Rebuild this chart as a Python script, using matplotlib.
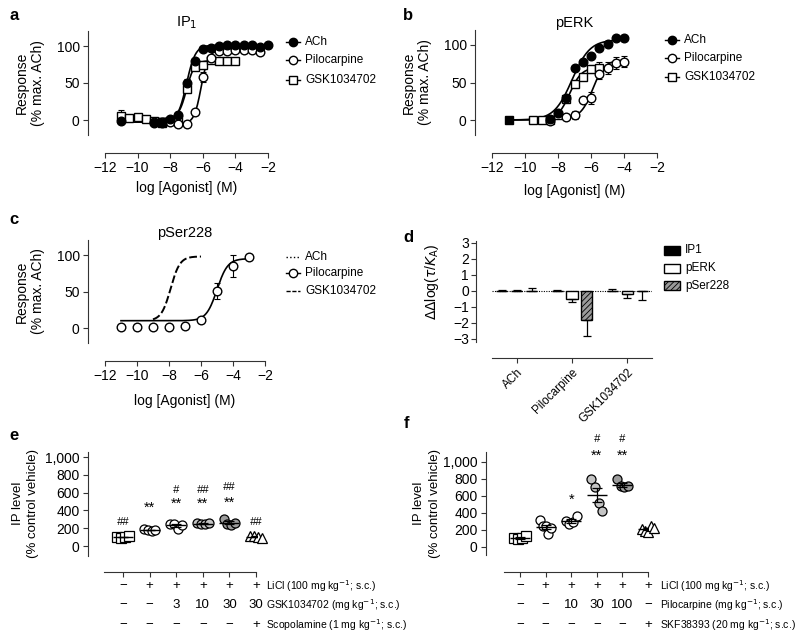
#!/usr/bin/env python3
"""Multi-panel figure: concentration-response curves (a-c), bias factors (d), in vivo IP levels (e, f)."""

import matplotlib
matplotlib.use("Agg")
import matplotlib.pyplot as plt
import matplotlib.ticker as ticker
import matplotlib.transforms as mtransforms
from matplotlib.lines import Line2D
from matplotlib.patches import Rectangle
import numpy as np

plt.rcParams["font.family"] = ["Liberation Sans", "DejaVu Sans"]
plt.rcParams["hatch.linewidth"] = 0.6

W, H = 800, 641

# ---------------- panel a: IP1 ----------------
A_ACH_X = [-11, -9, -8.5, -8, -7.5, -7, -6.5, -6, -5.5, -5, -4.5, -4, -3.5, -3, -2.5, -2]
A_ACH_Y = [-1, -4, -4, 1, 7, 50, 80, 96, 97, 100, 101, 102, 101, 101, 98, 101]
A_ACH_E = [0, 0, 0, 0, 0, 5, 4, 0, 0, 0, 0, 0, 0, 0, 0, 0]
A_PILO_X = [-9, -8.5, -8, -7.5, -7, -6.5, -6, -5.5, -5, -4.5, -4, -3.5, -3, -2.5]
A_PILO_Y = [-3, -3, -3, -5, -5, 11, 58, 84, 93, 93, 94, 95, 95, 92]
A_PILO_E = [0, 0, 0, 0, 0, 4, 7, 3, 0, 0, 0, 0, 0, 0]
A_GSK_X = [-11, -10.5, -10, -9.5, -9, -8.5, -8, -7.5, -7, -6.5, -6, -5.5, -5, -4.5, -4]
A_GSK_Y = [6, 3, 4, 2, -2, -4, -1, 2, 42, 71, 75, 81, 80, 80, 80]
A_GSK_E = [8, 0, 0, 0, 0, 0, 0, 0, 4, 3, 5, 0, 0, 0, 0]
# fit: bottom, top, logEC50, hill slope, x from, x to
A_ACH_FIT = [-3, 101, -7.0, 1.6, -11, -2]
A_PILO_FIT = [-5, 94, -6.1, 2.0, -9, -2.5]
A_GSK_FIT = [2, 80, -7.0, 1.8, -11, -4]

# ---------------- panel b: pERK ----------------
B_BASAL_X = [-11]
B_BASAL_Y = [0]
B_ACH_X = [-8.5, -8, -7.5, -7, -6.5, -6, -5.5, -5, -4.5, -4]
B_ACH_Y = [1, 10, 30, 69, 77, 85, 96, 102, 110, 110]
B_PILO_X = [-8.5, -7.5, -7, -6.5, -6, -5.5, -5, -4.5, -4]
B_PILO_Y = [-1, 4, 7, 27, 30, 61, 69, 76, 78]
B_PILO_E = [0, 0, 5, 3, 8, 6, 8, 8, 7]
B_GSK_X = [-9.5, -9, -8.5, -8, -7.5, -7, -6.5, -6, -5.5]
B_GSK_Y = [0, 0, 0, 7, 28, 48, 57, 68, 69]
B_GSK_E = [0, 0, 0, 0, 3, 4, 3, 5, 8]
B_ACH_FIT = [0, 107, -7.15, 0.8, -11, -4]
B_PILO_FIT = [2, 80, -5.9, 1.2, -8.5, -4]
B_GSK_FIT = [0, 70, -7.3, 1.2, -11, -5.5]

# ---------------- panel c: pSer228 ----------------
C_PILO_X = [-11, -10, -9, -8, -7, -6, -5, -4, -3]
C_PILO_Y = [2, 1, 2, 2, 3, 11, 51, 85, 97]
C_PILO_E = [0, 0, 0, 0, 0, 0, 11, 15, 0]
C_PILO_FIT = [10, 95, -5.0, 1.3, -11, -3]
C_GSK_FIT = [10, 98, -7.9, 1.5, -9, -6]

# ---------------- panel d: bias ----------------
D_AGONISTS = ["ACh", "Pilocarpine", "GSK1034702"]
D_PATHWAYS = ["IP1", "pERK", "pSer228"]
D_IP1 = [0.0, 0.0, 0.02]
D_PERK = [0.0, -0.5, -0.2]
D_PSER = [0.0, -1.82, -0.02]
D_IP1_ERR = [0.05, 0.07, 0.08]
D_PERK_ERR = [0.08, 0.17, 0.22]
D_PSER_ERR = [0.2, 0.98, 0.52]

# ---------------- panel e: GSK1034702 in vivo ----------------
E_VALUES = [
    [100, 90, 100, 110],
    [190, 175, 170, 180],
    [250, 250, 190, 240],
    [260, 250, 245, 255],
    [300, 250, 240, 260],
    [110, 110, 100, 90],
]
E_STARS = ["", "**", "**", "**", "**", ""]
E_STAR_Y = [0, 430, 480, 480, 490, 0]
E_HASH = ["##", "", "#", "##", "##", "##"]
E_HASH_Y = [270, 0, 630, 630, 660, 270]
E_ROWS = [
    ("LiCl (100 mg kg$^{-1}$; s.c.)", ["\u2212", "+", "+", "+", "+", "+"]),
    ("GSK1034702 (mg kg$^{-1}$; s.c.)", ["\u2212", "\u2212", "3", "10", "30", "30"]),
    ("Scopolamine (1 mg kg$^{-1}$; s.c.)", ["\u2212", "\u2212", "\u2212", "\u2212", "\u2212", "+"]),
]

# ---------------- panel f: pilocarpine in vivo ----------------
F_VALUES = [
    [100, 95, 100, 130],
    [320, 240, 240, 150, 220],
    [300, 270, 290, 360],
    [800, 700, 520, 420],
    [800, 710, 700, 720],
    [210, 190, 170, 240, 220],
]
F_STARS = ["", "", "*", "**", "**", ""]
F_STAR_Y = [0, 0, 553, 1070, 1070, 0]
F_HASH = ["", "", "", "#", "#", ""]
F_HASH_Y = [0, 0, 0, 1270, 1270, 0]
F_ROWS = [
    ("LiCl (100 mg kg$^{-1}$; s.c.)", ["\u2212", "+", "+", "+", "+", "+"]),
    ("Pilocarpine (mg kg$^{-1}$; s.c.)", ["\u2212", "\u2212", "10", "30", "100", "\u2212"]),
    ("SKF38393 (20 mg kg$^{-1}$; s.c.)", ["\u2212", "\u2212", "\u2212", "\u2212", "\u2212", "+"]),
]

GROUP_MARKERS = ["s", "o", "o", "o", "o", "^"]
GROUP_FILLS = ["white", "white", "white", "#c4c4c4", "#9c9c9c", "white"]


def fig_box(left, top, right, bottom):
    """Axes rectangle from pixel edges."""
    return [left / W, 1 - bottom / H, (right - left) / W, (bottom - top) / H]


def px(x, y):
    return x / W, 1 - y / H


def style_axes(ax, left_out, bottom_out):
    for s in ("top", "right"):
        ax.spines[s].set_visible(False)
    ax.spines["left"].set_position(("outward", left_out * 0.72))
    ax.spines["bottom"].set_position(("outward", bottom_out * 0.72))
    for s in ("left", "bottom"):
        ax.spines[s].set_linewidth(0.8)
        ax.spines[s].set_color("#333333")
    ax.tick_params(direction="out", length=3.5, width=0.8, labelsize=10, pad=2.5, color="#333333")


def hill(fit):
    bottom, top, logec50, slope, x0, x1 = fit
    x = np.linspace(x0, x1, 200)
    return x, bottom + (top - bottom) / (1 + 10 ** ((logec50 - x) * slope))


def legend_entry(fig, x, y, label, marker=None, mfc="white", ls="-"):
    x0, y0 = px(x - 7, y)
    x1, _ = px(x + 7, y)
    fig.add_artist(Line2D([x0, x1], [y0, y0], color="black", lw=1.0, ls=ls,
                          transform=fig.transFigure))
    if marker:
        fig.add_artist(Line2D([(x0 + x1) / 2], [y0], marker=marker, ms=6, mfc=mfc,
                              mec="black", mew=1.0, transform=fig.transFigure))
    fig.text(*px(x + 12, y), label, fontsize=8.5, va="center", ha="left")


def points(ax, x, y, err, marker, mfc, ms=6.2):
    if err is not None:
        ax.errorbar(x, y, yerr=err, fmt="none", ecolor="black", elinewidth=0.8,
                    capsize=2.5, capthick=0.8, clip_on=False, zorder=3)
    ax.plot(x, y, ls="none", marker=marker, ms=ms, mfc=mfc, mec="black", mew=1.0,
            clip_on=False, zorder=4)


def curve_axes(ax, title, xl_y, yl_x):
    style_axes(ax, 17, 18)
    ax.set_xlim(-12, -2)
    ax.set_ylim(-20, 120)
    ax.set_xticks([-12, -10, -8, -6, -4, -2])
    ax.set_yticks([0, 50, 100])
    ax.set_title(title, fontsize=10.5, pad=2)
    ax.set_xlabel("log [Agonist] (M)", fontsize=10)
    ax.set_ylabel("Response\n(% max. ACh)", fontsize=10, linespacing=1.15)
    ax.xaxis.set_label_coords(0.5, xl_y)
    ax.yaxis.set_label_coords(yl_x, 0.5)


def plot_a(fig):
    ax = fig.add_axes(fig_box(105, 31.2, 268, 134.8))
    curve_axes(ax, "IP$_1$", -0.45, -0.37)
    for fit in (A_ACH_FIT, A_PILO_FIT, A_GSK_FIT):
        ax.plot(*hill(fit), color="black", lw=1.2, clip_on=False, zorder=2)
    points(ax, A_GSK_X, A_GSK_Y, A_GSK_E, "s", "white")
    points(ax, A_PILO_X, A_PILO_Y, A_PILO_E, "o", "white")
    points(ax, A_ACH_X, A_ACH_Y, A_ACH_E, "o", "black")
    legend_entry(fig, 293, 42, "ACh", "o", "black")
    legend_entry(fig, 293, 60, "Pilocarpine", "o")
    legend_entry(fig, 293, 80, "GSK1034702", "s")


def plot_b(fig):
    ax = fig.add_axes(fig_box(492, 30, 657, 135))
    curve_axes(ax, "pERK", -0.47, -0.365)
    for fit in (B_ACH_FIT, B_PILO_FIT, B_GSK_FIT):
        ax.plot(*hill(fit), color="black", lw=1.2, clip_on=False, zorder=2)
    points(ax, B_GSK_X, B_GSK_Y, B_GSK_E, "s", "white")
    points(ax, B_PILO_X, B_PILO_Y, B_PILO_E, "o", "white")
    points(ax, B_ACH_X, B_ACH_Y, None, "o", "black")
    points(ax, B_BASAL_X, B_BASAL_Y, None, "s", "black")
    legend_entry(fig, 672, 40, "ACh", "o", "black")
    legend_entry(fig, 672, 58, "Pilocarpine", "o")
    legend_entry(fig, 672, 77, "GSK1034702", "s")


def plot_c(fig):
    ax = fig.add_axes(fig_box(105, 240.4, 265, 342.6))
    curve_axes(ax, "pSer228", -0.5, -0.375)
    ax.plot(*hill(C_PILO_FIT), color="black", lw=1.2, clip_on=False, zorder=2)
    ax.plot(*hill(C_GSK_FIT), color="black", lw=1.4, ls=(0, (4, 1.5)), clip_on=False, zorder=2)
    points(ax, C_PILO_X, C_PILO_Y, C_PILO_E, "o", "white")
    legend_entry(fig, 293, 257, "ACh", ls=":")
    legend_entry(fig, 293, 273, "Pilocarpine", "o")
    legend_entry(fig, 293, 291, "GSK1034702", ls=(0, (3, 1.2)))


def plot_d(fig):
    ax = fig.add_axes(fig_box(492, 241.4, 652, 342.2))
    style_axes(ax, 16, 16)
    ax.set_xlim(-0.45, 2.45)
    ax.set_ylim(-3.2, 3.1)
    ax.set_yticks(range(-3, 4))
    pos = np.arange(len(D_AGONISTS))
    step, width = 0.27, 0.2
    fills = [dict(facecolor="black"), dict(facecolor="white"),
             dict(facecolor="#9a9a9a", hatch="//////")]
    series = [(D_IP1, D_IP1_ERR), (D_PERK, D_PERK_ERR), (D_PSER, D_PSER_ERR)]
    for i, ((vals, errs), kw) in enumerate(zip(series, fills)):
        x = pos + (i - 1) * step
        vals = np.array(vals)
        errs = np.array(errs)
        lower = np.where(vals < -0.01, errs, 0)
        upper = np.where(vals < -0.01, 0, errs)
        ax.bar(x, vals, width=width, edgecolor="black", linewidth=1.0, zorder=3, **kw)
        ax.errorbar(x, vals, yerr=[lower, upper], fmt="none", ecolor="black",
                    elinewidth=0.9, capsize=3, capthick=0.9, zorder=4)
    ax.axhline(0, color="black", lw=0.8, ls=(0, (1, 1.2)), zorder=2)
    ax.set_xticks(pos)
    ax.set_xticklabels(D_AGONISTS, rotation=45, ha="right", rotation_mode="anchor", fontsize=8.5)
    ax.tick_params(axis="y", labelsize=10, pad=1.5)
    ax.set_ylabel(r"$\Delta\Delta$log($\tau$/$K_{\rm A}$)", fontsize=10)
    ax.yaxis.set_label_coords(-0.32, 0.6)
    for (yy, name, kw) in zip((250, 268, 286), D_PATHWAYS, fills):
        x0, y0 = px(664, yy + 4.5)
        fig.add_artist(Rectangle((x0, y0), 16 / W, 9 / H, transform=fig.transFigure,
                                 edgecolor="black", linewidth=1.0, **kw))
        fig.text(*px(685, yy), name, fontsize=8.5, va="center")


def plot_scatter(fig, box, left_out, values, stars, star_y, hashes, hash_y, rows,
                 label_x, xlim, ylim, ylab_x):
    ax = fig.add_axes(fig_box(*box))
    style_axes(ax, left_out, 16.5)
    ax.set_xlim(*xlim)
    ax.set_ylim(*ylim)
    ax.set_yticks(range(0, 1001, 200))
    ax.yaxis.set_major_formatter(ticker.FuncFormatter(lambda v, p: f"{int(v):,}"))
    ax.set_xticks(range(len(values)))
    ax.set_xticklabels([])
    ax.spines["bottom"].set_bounds(xlim[0], len(values) - 1)
    ax.set_ylabel("IP level\n(% control vehicle)", fontsize=9.5, linespacing=1.35)
    ax.yaxis.set_label_coords(ylab_x, 0.5)
    for g, vals in enumerate(values):
        n = len(vals)
        offs = np.linspace(-0.22, 0.22, n)
        ax.plot(g + offs, vals, ls="none", marker=GROUP_MARKERS[g], ms=6.5,
                mfc=GROUP_FILLS[g], mec="black", mew=0.9, clip_on=False, zorder=3)
        mean = np.mean(vals)
        sem = np.std(vals, ddof=1) / np.sqrt(n)
        ax.errorbar(g, mean, yerr=sem, fmt="none", ecolor="black", elinewidth=0.9,
                    capsize=3.5, capthick=0.9, zorder=4)
        ax.plot(g, mean, marker="_", ms=14, mew=1.0, color="black", zorder=4)
    for g in range(len(values)):
        if stars[g]:
            ax.text(g, star_y[g], stars[g], ha="center", va="center", fontsize=10.5,
                    clip_on=False)
        if hashes[g]:
            ax.text(g, hash_y[g], hashes[g], ha="center", va="center", fontsize=8,
                    style="italic", clip_on=False)
    trans = mtransforms.blended_transform_factory(ax.transData, fig.transFigure)
    for (label, syms), yy in zip(rows, (586, 605, 625)):
        for g, s in enumerate(syms):
            ax.text(g, 1 - yy / H, s, transform=trans, ha="center", va="center",
                    fontsize=9.5, clip_on=False)
        fig.text(*px(label_x, yy), label, fontsize=7.5, va="center")
    return ax


def main():
    fig = plt.figure(figsize=(W / 100, H / 100), dpi=100)
    plot_a(fig)
    plot_b(fig)
    plot_c(fig)
    plot_d(fig)
    plot_scatter(fig, (104.4, 451.7, 257.3, 555.8), 16.4, E_VALUES, E_STARS, E_STAR_Y,
                 E_HASH, E_HASH_Y, E_ROWS, 266, (-0.7, 5.05), (-110, 1060), -0.43)
    plot_scatter(fig, (504, 452, 648, 555), 18, F_VALUES, F_STARS, F_STAR_Y,
                 F_HASH, F_HASH_Y, F_ROWS, 660, (-0.625, 5.0), (-95, 1115), -0.44)
    for letter, (x, y) in zip("abcdef", [(14, 15), (408, 15), (14, 219), (408, 237),
                                         (14, 436), (407, 424)]):
        fig.text(*px(x, y), letter, fontsize=12, fontweight="bold", va="center", ha="center")
    fig.savefig("out.png", dpi=100)
    plt.close(fig)


if __name__ == "__main__":
    main()
